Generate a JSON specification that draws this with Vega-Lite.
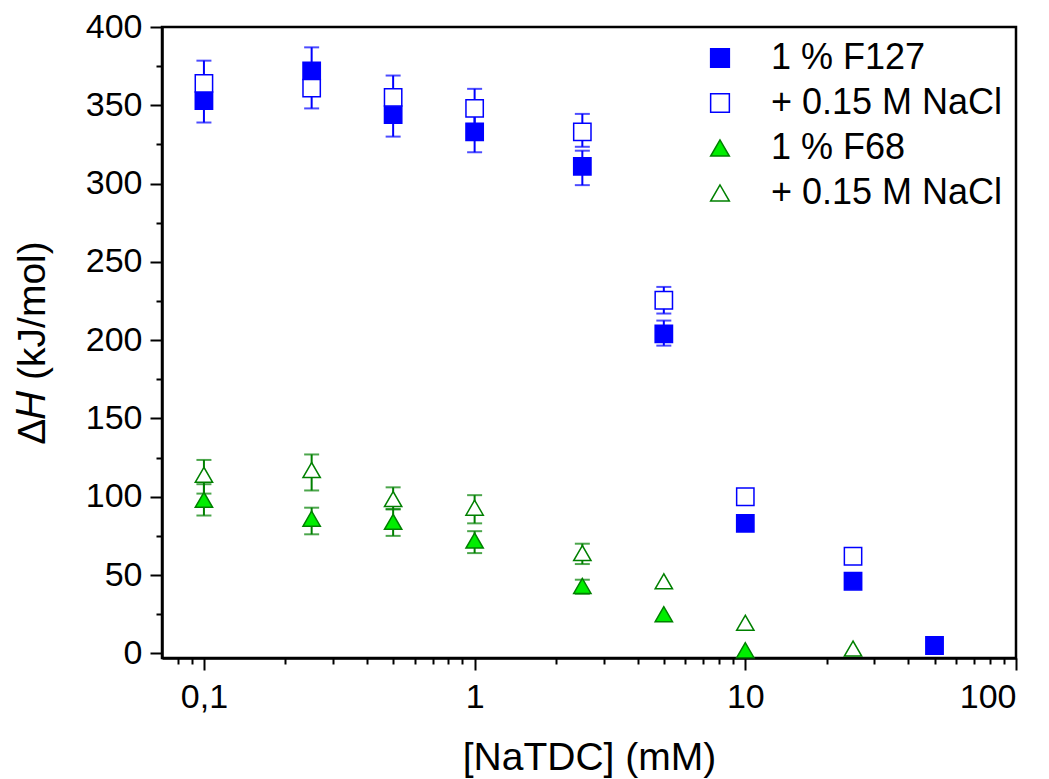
{
  "$schema": "https://vega.github.io/schema/vega-lite/v6.json",
  "width": 854,
  "height": 631,
  "autosize": "none",
  "padding": {"left": 162, "top": 27, "right": 33, "bottom": 121},
  "background": "white",
  "config": {
    "view": {"stroke": "black", "strokeWidth": 2.5},
    "font": "Liberation Sans",
    "axis": {
      "domainColor": "black", "domainWidth": 2.5, "tickColor": "black", "tickWidth": 2,
      "labelColor": "black", "labelFont": "Liberation Sans", "labelFontSize": 34,
      "titleFont": "Liberation Sans", "titleFontSize": 39, "titleFontWeight": "normal", "titleColor": "black",
      "grid": false
    },
    "legend": {
      "orient": "top-right", "offset": 13, "padding": 0,
      "labelFont": "Liberation Sans", "labelFontSize": 36, "labelColor": "black", "labelLimit": 0,
      "symbolSize": 350, "symbolStrokeWidth": 1.5, "rowPadding": 9, "labelOffset": 33
    }
  },
  "data": {
    "values": [
      {"c": 0.1, "y": 353, "lo": 339, "hi": 367, "s": "F127"},
      {"c": 0.25, "y": 372, "lo": 357, "hi": 387, "s": "F127"},
      {"c": 0.5, "y": 344, "lo": 330, "hi": 358, "s": "F127"},
      {"c": 1, "y": 333, "lo": 320, "hi": 346, "s": "F127"},
      {"c": 2.5, "y": 311, "lo": 299, "hi": 321, "s": "F127"},
      {"c": 5, "y": 204, "lo": 196.5, "hi": 212.5, "s": "F127"},
      {"c": 10, "y": 83, "s": "F127"},
      {"c": 25, "y": 46, "s": "F127"},
      {"c": 50, "y": 5, "s": "F127"},
      {"c": 0.1, "y": 364, "lo": 350, "hi": 378.5, "s": "F127N"},
      {"c": 0.25, "y": 361, "lo": 348, "hi": 375, "s": "F127N"},
      {"c": 0.5, "y": 355, "lo": 341, "hi": 369, "s": "F127N"},
      {"c": 1, "y": 348, "lo": 335, "hi": 360.5, "s": "F127N"},
      {"c": 2.5, "y": 333, "lo": 323.5, "hi": 344.5, "s": "F127N"},
      {"c": 5, "y": 225.5, "lo": 217, "hi": 234, "s": "F127N"},
      {"c": 10, "y": 100, "lo": 97, "hi": 104, "s": "F127N"},
      {"c": 25, "y": 62, "s": "F127N"},
      {"c": 0.1, "y": 98, "lo": 88, "hi": 108, "s": "F68"},
      {"c": 0.25, "y": 86, "lo": 76, "hi": 93, "s": "F68"},
      {"c": 0.5, "y": 84, "lo": 75, "hi": 92, "s": "F68"},
      {"c": 1, "y": 72, "lo": 64, "hi": 78, "s": "F68"},
      {"c": 2.5, "y": 43, "lo": 38, "hi": 47, "s": "F68"},
      {"c": 5, "y": 25, "s": "F68"},
      {"c": 10, "y": 2, "s": "F68"},
      {"c": 0.1, "y": 114, "lo": 102, "hi": 123.5, "s": "F68N"},
      {"c": 0.25, "y": 117, "lo": 104, "hi": 127, "s": "F68N"},
      {"c": 0.5, "y": 98.5, "lo": 92, "hi": 106, "s": "F68N"},
      {"c": 1, "y": 93, "lo": 83, "hi": 101, "s": "F68N"},
      {"c": 2.5, "y": 64, "lo": 57, "hi": 70, "s": "F68N"},
      {"c": 5, "y": 46, "s": "F68N"},
      {"c": 10, "y": 19.5, "s": "F68N"},
      {"c": 25, "y": 3, "s": "F68N"}
    ]
  },
  "resolve": {"axis": {"x": "independent", "y": "independent"}},
  "layer": [
    {
      "mark": {"type": "rule", "strokeWidth": 2},
      "encoding": {
        "x": {"field": "c", "type": "quantitative", "scale": {"type": "log", "domain": [0.07, 100], "nice": false},
          "axis": {"orient": "bottom", "values": [0.1, 1, 10, 100], "tickSize": 12, "labelPadding": 10,
            "labelExpr": "datum.value < 0.5 ? '0,1' : format(datum.value, 'd')", "title": "[NaTDC] (mM)", "titlePadding": 24}},
        "y": {"field": "lo", "type": "quantitative", "scale": {"domain": [-3, 400], "nice": false, "zero": false},
          "axis": {"orient": "left", "values": [0, 50, 100, 150, 200, 250, 300, 350, 400], "tickSize": 12, "labelPadding": 8,
            "title": "Δ𝐻 (kJ/mol)", "titlePadding": 33}},
        "y2": {"field": "hi"},
        "color": {"field": "s", "type": "nominal", "legend": null,
          "scale": {"range": ["#0000ff", "#0000ff", "#008000", "#008000"]}}
      }
    },
    {
      "mark": {"type": "tick", "orient": "horizontal", "size": 15, "thickness": 2},
      "encoding": {
        "x": {"field": "c", "type": "quantitative", "axis": null},
        "y": {"field": "lo", "type": "quantitative", "axis": null},
        "color": {"field": "s", "type": "nominal", "legend": null}
      }
    },
    {
      "mark": {"type": "tick", "orient": "horizontal", "size": 15, "thickness": 2},
      "encoding": {
        "x": {"field": "c", "type": "quantitative", "axis": null},
        "y": {"field": "hi", "type": "quantitative", "axis": null},
        "color": {"field": "s", "type": "nominal", "legend": null}
      }
    },
    {
      "mark": {"type": "point", "size": 300, "strokeWidth": 1.5, "opacity": 1, "fillOpacity": 1, "strokeOpacity": 1},
      "encoding": {
        "x": {"field": "c", "type": "quantitative",
          "axis": {"orient": "bottom", "values": [0.08, 0.09, 0.2, 0.3, 0.4, 0.5, 0.6, 0.7, 0.8, 0.9, 2, 3, 4, 5, 6, 7, 8, 9, 20, 30, 40, 50, 60, 70, 80, 90],
            "labels": false, "tickSize": 6, "domain": false, "title": null}},
        "y": {"field": "y", "type": "quantitative",
          "axis": {"orient": "left", "values": [25, 75, 125, 175, 225, 275, 325, 375], "labels": false, "tickSize": 6, "domain": false, "title": null}},
        "shape": {"field": "s", "type": "nominal",
          "scale": {"domain": ["F127", "F127N", "F68", "F68N"], "range": ["square", "square", "triangle-up", "triangle-up"]},
          "legend": {"title": null, "labelExpr": "datum.label == 'F127' ? '1 % F127' : datum.label == 'F68' ? '1 % F68' : '+ 0.15 M NaCl'"}},
        "fill": {"field": "s", "type": "nominal",
          "scale": {"domain": ["F127", "F127N", "F68", "F68N"], "range": ["#0000ff", "#ffffff", "#00ee00", "#ffffff"]},
          "legend": {"title": null, "labelExpr": "datum.label == 'F127' ? '1 % F127' : datum.label == 'F68' ? '1 % F68' : '+ 0.15 M NaCl'"}},
        "stroke": {"field": "s", "type": "nominal",
          "scale": {"domain": ["F127", "F127N", "F68", "F68N"], "range": ["#0000ff", "#0000ff", "#008000", "#008000"]},
          "legend": {"title": null, "labelExpr": "datum.label == 'F127' ? '1 % F127' : datum.label == 'F68' ? '1 % F68' : '+ 0.15 M NaCl'"}}
      }
    }
  ]
}
